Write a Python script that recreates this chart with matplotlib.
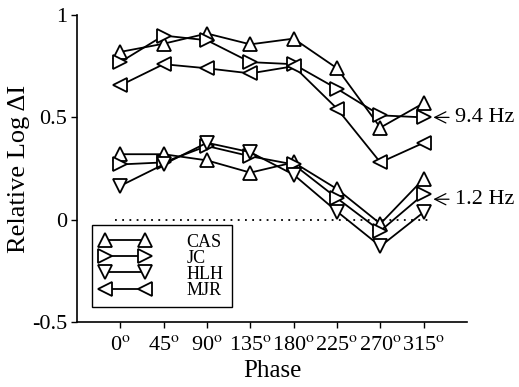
import matplotlib
matplotlib.use("Agg")
import matplotlib.pyplot as plt
from matplotlib.lines import Line2D

plt.rcParams['font.family'] = ['Liberation Serif', 'DejaVu Serif']
plt.rcParams['mathtext.fontset'] = 'stix'

phase = [0, 45, 90, 135, 180, 225, 270, 315]
phase_labels = ['0', '45', '90', '135', '180', '225', '270', '315']

# 9.4 Hz condition
cas_94 = [0.82, 0.86, 0.91, 0.857, 0.885, 0.74, 0.45, 0.57]
jc_94 = [0.77, 0.90, 0.877, 0.77, 0.76, 0.64, 0.51, 0.50]
mjr_94 = [0.656, 0.76, 0.74, 0.715, 0.75, 0.543, 0.28, 0.376]

# 1.2 Hz condition
cas_12 = [0.32, 0.32, 0.29, 0.23, 0.28, 0.15, -0.02, 0.20]
jc_12 = [0.27, 0.28, 0.36, 0.31, 0.27, 0.105, -0.055, 0.125]
hlh_12 = [0.165, 0.27, 0.376, 0.33, 0.22, 0.04, -0.13, 0.037]

subjects = ['CAS', 'JC', 'HLH', 'MJR']
markers = {'CAS': '^', 'JC': '>', 'HLH': 'v', 'MJR': '<'}

fig = plt.figure(figsize=(5.19, 3.87), dpi=100)
ax = fig.add_axes([0.148, 0.168, 0.752, 0.793])

style = dict(color='black', lw=1.3, markersize=10, markerfacecolor='white',
             markeredgecolor='black', markeredgewidth=1.3)

series = [
    ('CAS', cas_94), ('JC', jc_94), ('MJR', mjr_94),
    ('CAS', cas_12), ('JC', jc_12), ('HLH', hlh_12),
]
for name, vals in series:
    ax.plot(phase, vals, marker=markers[name], **style)

# zero reference line
ax.plot([-5, 320], [0, 0], ls=(0, (1, 3)), color='black', lw=1.3)

ax.set_xlim(-45, 360)
ax.set_ylim(-0.5, 1)
ax.set_xticks(phase)
ax.set_xticklabels([p + r'$^{\mathrm{o}}$' for p in phase_labels])
ax.set_yticks([-0.5, 0, 0.5, 1])
ax.set_yticklabels(['-0.5', '0', '0.5', '1'])
ax.tick_params(direction='out', length=4, width=1, labelsize=16, pad=3)
ax.tick_params(axis='x', pad=6)
ax.spines['top'].set_visible(False)
ax.spines['right'].set_visible(False)
for s in ('left', 'bottom'):
    ax.spines[s].set_linewidth(1.2)

ax.set_xlabel('Phase', fontsize=18, labelpad=4)
ax.set_ylabel('Relative Log ΔI', fontsize=19, labelpad=1)

# frequency labels
for y, txt in [(0.5, '9.4 Hz'), (0.1, '1.2 Hz')]:
    ax.annotate(txt, xy=(325, y), xytext=(347, y), xycoords='data',
                textcoords='data', fontsize=16, va='center', ha='left',
                arrowprops=dict(arrowstyle='->,head_length=0.5,head_width=0.25',
                                lw=0.9, color='black', shrinkA=2, shrinkB=0),
                annotation_clip=False)

handles = [Line2D([], [], marker=markers[s], **style) for s in subjects]
leg = ax.legend(handles, subjects, loc='lower left',
                bbox_to_anchor=(0.038, 0.049), numpoints=2, fontsize=13,
                handlelength=2.8, handletextpad=2.0, labelspacing=-0.05,
                borderpad=0.45, fancybox=False, framealpha=1,
                edgecolor='black', borderaxespad=0)
leg.get_frame().set_linewidth(1.0)

fig.savefig('out.png', dpi=100)
